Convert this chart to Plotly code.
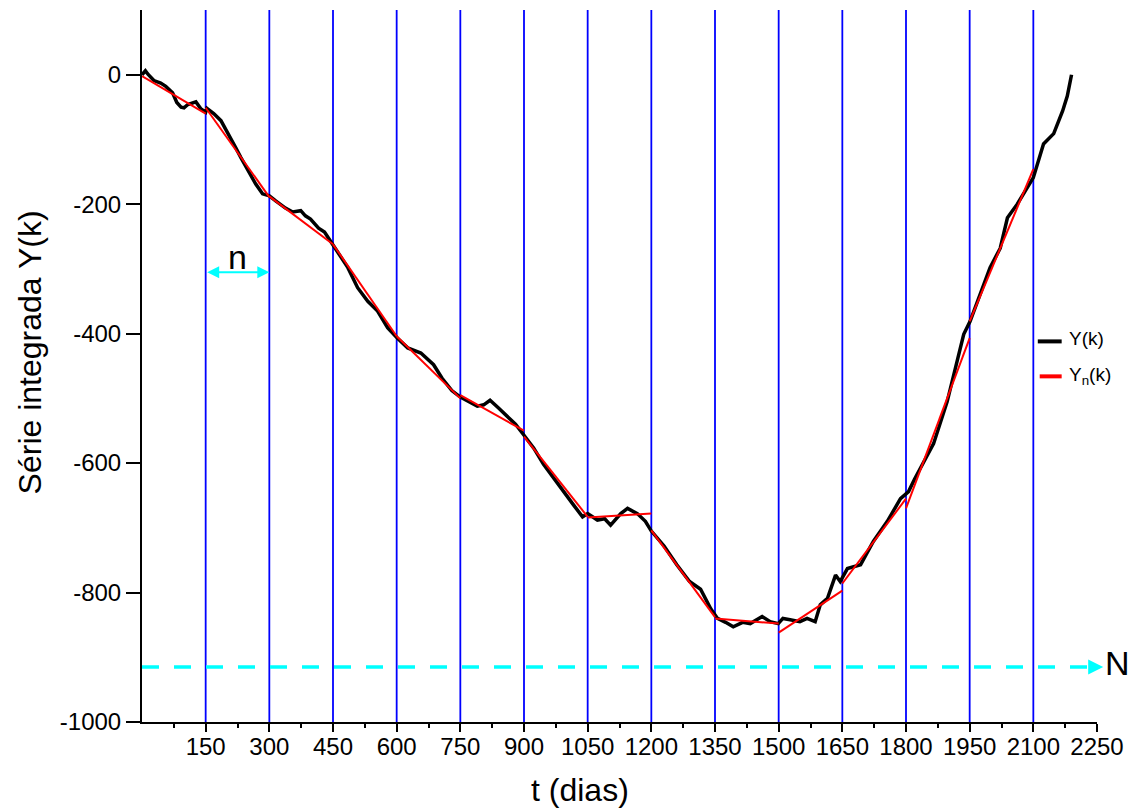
import plotly.graph_objects as go

# ---- data ----
t_black = [0, 8, 15, 28, 44, 56, 72, 82, 92, 99, 108, 115, 127, 139, 150, 153, 169, 186, 204, 221,
           233, 251, 268, 284, 300, 315, 338, 355, 374, 385, 397, 416, 430, 452, 470, 485, 508, 532,
           555, 579, 602, 626, 657, 687, 707, 730, 750, 770, 790, 805, 820, 840, 860, 880, 900, 923,
           946, 970, 993, 1017, 1038, 1050, 1073, 1090, 1104, 1115, 1128, 1144, 1167, 1186, 1200,
           1230, 1260, 1290, 1316, 1340, 1356, 1375, 1393, 1415, 1433, 1461, 1480, 1499, 1510, 1527,
           1550, 1567, 1586, 1598, 1615, 1634, 1645, 1662, 1693, 1723, 1740, 1756, 1787, 1806, 1820,
           1841, 1865, 1897, 1921, 1936, 1951, 1975, 1998, 2022, 2039, 2062, 2077, 2100, 2124, 2148,
           2169, 2180, 2190]
y_black = [0, 6, 0, -9, -13, -18, -28, -43, -50, -51, -46, -45, -42, -53, -58, -52, -60, -71, -94, -113,
           -128, -149, -169, -184, -187, -195, -206, -212, -210, -218, -223, -237, -243, -265, -282, -298, -329, -350,
           -365, -391, -407, -422, -430, -448, -469, -488, -498, -505, -512, -510, -503, -515, -527, -540, -557, -577,
           -602, -624, -644, -665, -683, -678, -688, -686, -696, -688, -678, -670, -678, -690, -705,
           -728, -757, -783, -795, -825, -840, -846, -853, -846, -848, -837, -845, -848, -840, -842,
           -845, -840, -845, -819, -809, -773, -783, -763, -757, -721, -706, -690, -655, -644, -625,
           -598, -570, -505, -443, -401, -381, -339, -298, -268, -221, -200, -184, -159, -107, -91,
           -56, -33, 0]

seg_start = [0, 150, 300, 450, 600, 750, 900, 1050, 1200, 1350, 1500, 1650, 1800, 1950]
seg_len = 150
seg_v0 = [-2, -51, -188, -262, -404, -495, -559, -684, -704, -840, -862, -786, -670, -381]
seg_v1 = [-60, -189, -262, -404, -500, -550, -683, -678, -838, -848, -797, -655, -407, -146]

box_edges = [150, 300, 450, 600, 750, 900, 1050, 1200, 1350, 1500, 1650, 1800, 1950, 2100]
x_ticks = [150, 300, 450, 600, 750, 900, 1050, 1200, 1350, 1500, 1650, 1800, 1950, 2100, 2250]
x_minor = [75, 225, 375, 525, 675, 825, 975, 1125, 1275, 1425, 1575, 1725, 1875, 2025, 2175]
y_ticks = [-1000, -800, -600, -400, -200, 0]
N_level = -915
n_level = -305

FONT = "Liberation Sans, Arial, sans-serif"

red_x, red_y = [], []
for s, a, b in zip(seg_start, seg_v0, seg_v1):
    red_x += [s, s + seg_len, None]
    red_y += [a, b, None]

fig = go.Figure()
fig.add_trace(go.Scatter(x=t_black, y=y_black, mode="lines", name="Y(k)",
                         line=dict(color="black", width=3.5), showlegend=False))
fig.add_trace(go.Scatter(x=red_x, y=red_y, mode="lines", name="Y<sub>n</sub>(k)",
                         line=dict(color="red", width=2), showlegend=False))

shapes = []
for e in box_edges:
    shapes.append(dict(type="line", xref="x", yref="y", x0=e, x1=e, y0=-1000, y1=100,
                       line=dict(color="#0000FF", width=1.8), layer="below"))
# dashed N line
shapes.append(dict(type="line", xref="paper", yref="y", x0=0.0, x1=0.992, y0=N_level, y1=N_level,
                   line=dict(color="#00FFFF", width=3.5, dash="17px,15px")))
# legend samples
shapes.append(dict(type="line", xref="paper", yref="y", x0=0.938, x1=0.963, y0=-412, y1=-412,
                   line=dict(color="black", width=4)))
shapes.append(dict(type="line", xref="paper", yref="y", x0=0.940, x1=0.963, y0=-466, y1=-466,
                   line=dict(color="red", width=4)))

annotations = [
    # n double arrow
    dict(x=300, y=n_level, xref="x", yref="y", ax=150, ay=n_level, axref="x", ayref="y",
         text="", showarrow=True, arrowside="end+start", arrowhead=2, arrowsize=1.2,
         arrowwidth=2, arrowcolor="#00FFFF"),
    dict(x=225, y=-281, xref="x", yref="y", text="n", showarrow=False,
         xanchor="center", yanchor="middle",
         font=dict(family=FONT, size=34, color="black")),
    # N arrow head
    dict(x=1.0065, y=N_level, xref="paper", yref="y", ax=-14, ay=0, axref="pixel", ayref="pixel",
         text="", showarrow=True, arrowhead=2, arrowsize=1.0, arrowwidth=3, arrowcolor="#00FFFF"),
    dict(x=1.0065, y=N_level + 6, xref="paper", yref="y", text="N", showarrow=False,
         xanchor="left", yanchor="middle",
         font=dict(family=FONT, size=34, color="black")),
    # legend text
    dict(x=0.969, y=-408, xref="paper", yref="y", text="Y(k)", showarrow=False,
         xanchor="left", yanchor="middle",
         font=dict(family=FONT, size=19, color="black")),
    dict(x=0.969, y=-466, xref="paper", yref="y", text="Y<sub>n</sub>(k)", showarrow=False,
         xanchor="left", yanchor="middle",
         font=dict(family=FONT, size=19, color="black")),
    # axis titles
    dict(x=-0.117, y=0.5195, xref="paper", yref="paper", text="Série integrada Y(k)", showarrow=False,
         textangle=-90, xanchor="center", yanchor="middle",
         font=dict(family=FONT, size=32, color="black")),
    dict(x=0.4586, y=-0.096, xref="paper", yref="paper", text="t (dias)", showarrow=False,
         xanchor="center", yanchor="middle",
         font=dict(family=FONT, size=32, color="black")),
]

fig.update_layout(
    width=1133, height=809,
    margin=dict(l=142, r=36, t=10, b=87),
    paper_bgcolor="white", plot_bgcolor="white",
    font=dict(family=FONT, size=24, color="black"),
    shapes=shapes, annotations=annotations, showlegend=False,
)
fig.update_xaxes(range=[0, 2250], tickvals=x_ticks, ticktext=[str(v) for v in x_ticks],
                 showline=True, linecolor="black", linewidth=2, mirror=False,
                 ticks="outside", ticklen=8, tickwidth=2, tickcolor="black",
                 showgrid=False, zeroline=False, ticklabelstandoff=-6,
                 minor=dict(tickvals=x_minor, ticks="outside", ticklen=4, tickwidth=2, tickcolor="black",
                            showgrid=False))
fig.update_yaxes(range=[-1000, 100], tickvals=y_ticks, ticktext=[str(v) for v in y_ticks],
                 showline=True, linecolor="black", linewidth=2, mirror=False,
                 ticks="outside", ticklen=14, tickwidth=2, tickcolor="black",
                 showgrid=False, zeroline=False, ticklabelstandoff=0)

fig.write_html("out.html")
